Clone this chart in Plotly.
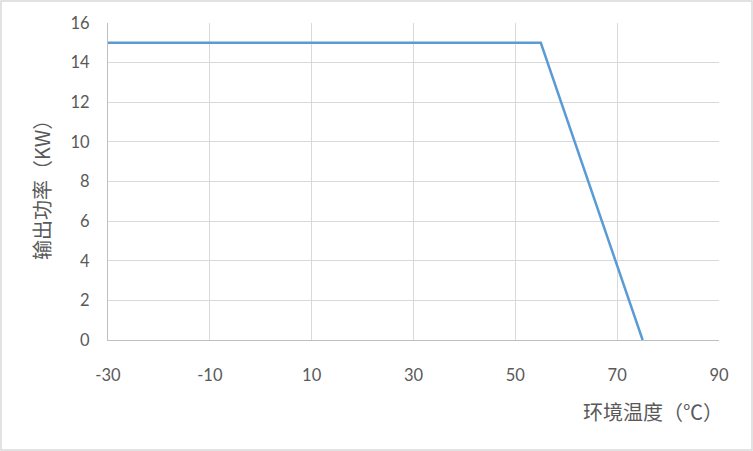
import plotly.graph_objects as go

temps = [-30, 55, 75]
power = [15, 15, 0]
x_ticks = [-30, -10, 10, 30, 50, 70, 90]
y_ticks = [0, 2, 4, 6, 8, 10, 12, 14, 16]
x_title = "环境温度（℃）"
y_title = "输出功率（KW）"

W, H = 753, 451
L, R, T, B = 108, 34, 23, 111
pw, ph = W - L - R, H - T - B

fig = go.Figure()
fig.add_trace(go.Scatter(x=temps, y=power, mode="lines",
                         line=dict(color="#5b9bd5", width=2.5), showlegend=False))

tickfont = dict(family="Lato, Liberation Sans, sans-serif", size=16.5, color="#595959")
fig.update_layout(
    width=W, height=H,
    margin=dict(l=L, r=R, t=T, b=B),
    paper_bgcolor="white", plot_bgcolor="white",
    xaxis=dict(range=[-30, 90], tickvals=x_ticks, ticktext=[str(v) for v in x_ticks],
               showgrid=True, gridcolor="#d9d9d9", gridwidth=1,
               showline=True, linecolor="#bfbfbf", linewidth=1, mirror=False,
               zeroline=False, ticks="", tickfont=tickfont, ticklabelstandoff=20),
    yaxis=dict(range=[0, 16], tickvals=y_ticks,
               showgrid=True, gridcolor="#d9d9d9", gridwidth=1,
               showline=True, linecolor="#bfbfbf", linewidth=1,
               zeroline=False, ticks="", tickfont=tickfont, ticklabelstandoff=14),
)

fig.add_annotation(text=x_title, xref="paper", yref="paper",
                   x=(653 - L) / pw, y=(H - B - 411) / ph, xanchor="center", yanchor="middle",
                   showarrow=False,
                   font=dict(family="Noto Sans CJK SC", size=20, color="#595959"))
fig.add_annotation(text=y_title, xref="paper", yref="paper",
                   x=(42 - L) / pw, y=(H - B - 185) / ph, xanchor="center", yanchor="middle",
                   textangle=-90, showarrow=False,
                   font=dict(family="Noto Sans CJK SC", size=20, color="#595959"))

# chart border
fig.add_shape(type="rect", xref="paper", yref="paper",
              x0=(1 - L) / pw, x1=(W - 1 - L) / pw,
              y0=(H - B - (H - 1)) / ph, y1=(H - B - 1) / ph,
              line=dict(color="#d9d9d9", width=1.5), layer="below")

fig.write_html("out.html", config={"displayModeBar": False},
               post_script="document.body.style.margin='0px';document.body.style.overflow='hidden';")
